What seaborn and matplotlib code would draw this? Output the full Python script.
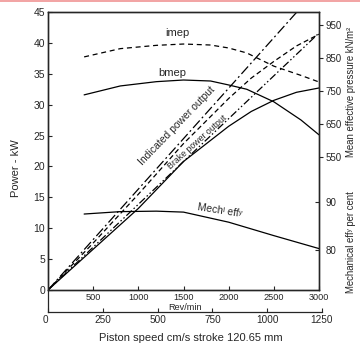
import matplotlib.pyplot as plt
import seaborn as sns
from matplotlib import patches

# Power curves (kW) against engine speed (rev/min)
rpm_power = [0, 500, 1000, 1500, 2000, 2250, 2500, 2750, 3000]
indicated_kw = [0, 7.6, 15.5, 23.7, 31.0, 34.3, 37.0, 39.5, 41.4]
brake_kw = [0, 6.6, 13.2, 20.8, 26.5, 28.9, 30.7, 32.0, 32.7]

# Straight reference lines from the origin
rpm_line = [0, 3000]
line_a_kw = [0, 49.0]
line_b_kw = [0, 41.6]

# Mean effective pressures (kN/m2)
rpm_mep = [400, 800, 1200, 1500, 1800, 2000, 2200, 2500, 2800, 3000]
imep = [853, 878, 888, 892, 889, 880, 865, 825, 797, 777]
bmep = [738, 765, 778, 783, 780, 768, 755, 717, 662, 617]

# Mechanical efficiency (per cent)
rpm_eff = [400, 800, 1200, 1500, 2000, 2500, 3000]
mech_eff = [87.5, 88.0, 88.1, 87.9, 85.8, 83.0, 80.3]

power_ticks = [0, 5, 10, 15, 20, 25, 30, 35, 40, 45]
rpm_ticks = [500, 1000, 1500, 2000, 2500, 3000]
mep_ticks = [550, 650, 750, 850, 950]
eff_ticks = [80, 90]
piston_ticks = [0, 250, 500, 750, 1000, 1250]

W, H = 360, 356
LW = 0.9

sns.set_style("ticks")
plt.rcParams["font.family"] = ["Liberation Sans", "DejaVu Sans"]
plt.rcParams["axes.linewidth"] = 0.9

fig = plt.figure(figsize=(W / 100, H / 100), dpi=100)
ax = fig.add_axes([48 / W, 1 - 290 / H, 271 / W, 278 / H])

# -------------------------------------------------------------------------
# Power lines
sns.lineplot(x=rpm_power, y=indicated_kw, ax=ax, color="black", lw=LW,
             linestyle=(0, (4, 2.5)))
sns.lineplot(x=rpm_power, y=brake_kw, ax=ax, color="black", lw=LW)
sns.lineplot(x=rpm_line, y=line_a_kw, ax=ax, color="black", lw=LW,
             linestyle=(0, (8, 2.5, 1.5, 2.5)))
sns.lineplot(x=rpm_line, y=line_b_kw, ax=ax, color="black", lw=LW,
             linestyle=(0, (6, 2, 1.2, 2, 1.2, 2)))

ax.set_xlim(0, 3000)
ax.set_ylim(0, 45)
ax.set_xticks(rpm_ticks)
ax.set_yticks(power_ticks)
ax.tick_params(axis="both", direction="in", length=3, width=0.8, pad=2)
ax.tick_params(axis="y", labelsize=7.5)
ax.tick_params(axis="x", labelsize=6.6, pad=2)
ax.set_ylabel("Power - kW", fontsize=8)
ax.yaxis.set_label_coords(-0.1, 0.44)
ax.text(0.506, -0.062, "Rev/min", transform=ax.transAxes, fontsize=6.6,
        ha="center", va="center")

# -------------------------------------------------------------------------
# Mean effective pressure axis
ax_mep = ax.twinx()
sns.lineplot(x=rpm_mep, y=imep, ax=ax_mep, color="black", lw=LW,
             linestyle=(0, (4, 3)))
sns.lineplot(x=rpm_mep, y=bmep, ax=ax_mep, color="black", lw=LW)
ax_mep.set_ylim(147, 989)
ax_mep.set_yticks(mep_ticks)
ax_mep.tick_params(axis="y", direction="out", length=3, width=0.8,
                   labelsize=7, pad=2)
ax_mep.set_ylabel("")

# Mechanical efficiency axis
ax_eff = ax.twinx()
sns.lineplot(x=rpm_eff, y=mech_eff, ax=ax_eff, color="black", lw=LW)
ax_eff.set_ylim(71.67, 129.6)
ax_eff.set_yticks(eff_ticks)
ax_eff.tick_params(axis="y", direction="in", length=3, width=0.8,
                   labelsize=7, pad=5)
ax_eff.set_ylabel("")
ax_eff.set_xlim(0, 3000)

ax.text(1.118, 0.712, "Mean effective pressure kN/m\u00b2", transform=ax.transAxes,
        rotation=90, fontsize=6.9, ha="center", va="center")
ax.text(1.118, 0.173, "Mechanical eff\u02b8 per cent", transform=ax.transAxes,
        rotation=90, fontsize=6.9, ha="center", va="center")

# -------------------------------------------------------------------------
# Curve labels
ax.text(1428, 41.6, "imep", fontsize=8, ha="center", va="center")
ax.text(1373, 35.1, "bmep", fontsize=8, ha="center", va="center")
ax.text(1428, 26.5, "Indicated power output", fontsize=7.5, rotation=46,
        ha="center", va="center", rotation_mode="anchor")
ax.text(1649, 23.9, "Brake power output", fontsize=6.3, rotation=42,
        ha="center", va="center", rotation_mode="anchor")
ax.text(1904, 12.8, "Mech\u02e1 eff\u02b8", fontsize=7.5, rotation=-9,
        ha="center", va="center", rotation_mode="anchor")

# -------------------------------------------------------------------------
# Piston speed axis underneath
axp = fig.add_axes([48 / W, 1 - 312 / H, 274 / W, 22 / H])
axp.patch.set_visible(False)
axp.set_xlim(0, 1250)
axp.set_ylim(0, 1)
axp.set_yticks([])
axp.set_xticks(piston_ticks)
for side in ["top", "right"]:
    axp.spines[side].set_visible(False)
axp.tick_params(axis="x", direction="in", length=3, width=0.8,
                labelsize=7.2, pad=2)
axp.get_xticklabels()[0].set_horizontalalignment("right")
axp.set_xlabel("Piston speed cm/s stroke 120.65 mm", fontsize=8)
axp.xaxis.set_label_coords(0.52, -0.95)

# thin pinkish strip along the top edge of the scan
fig.add_artist(patches.Rectangle((0, 1 - 2 / H), 1, 2 / H,
                                 transform=fig.transFigure,
                                 color="#f2a5a5", lw=0))

plt.savefig("out.png", dpi=100)
